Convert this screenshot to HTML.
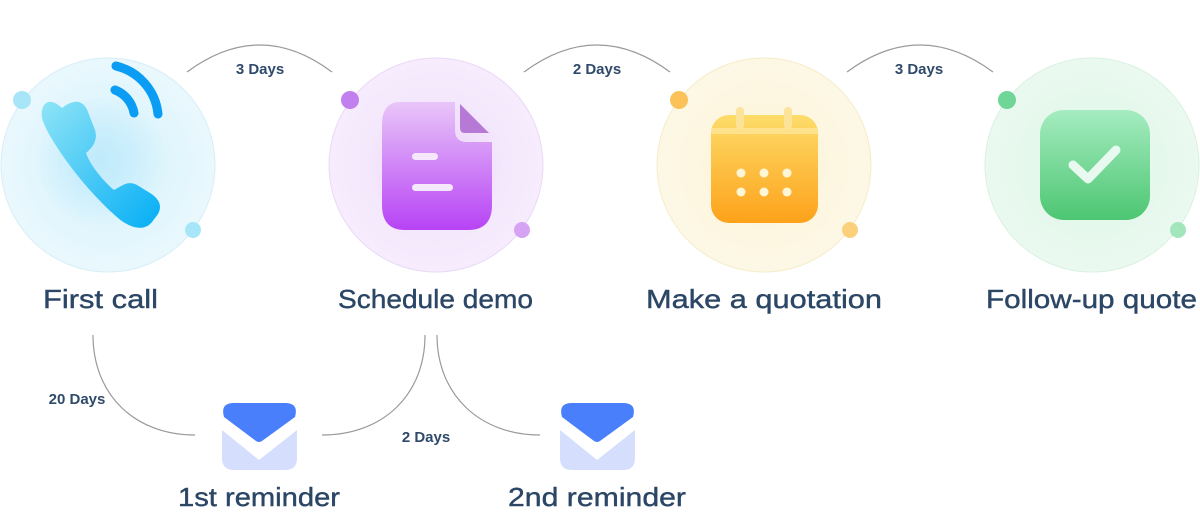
<!DOCTYPE html>
<html><head><style>
html,body{margin:0;padding:0;background:#fff;}
body{width:1200px;height:514px;overflow:hidden;position:relative;font-family:"Liberation Sans",sans-serif;}
</style></head><body>
<svg width="1200" height="514" viewBox="0 0 1200 514" xmlns="http://www.w3.org/2000/svg">
<defs>
<radialGradient id="cb" cx="50%" cy="50%" r="50%"><stop offset="0" stop-color="#d2f1fc"/><stop offset="1" stop-color="#eaf8fd"/></radialGradient>
<radialGradient id="cp" cx="50%" cy="50%" r="50%"><stop offset="0" stop-color="#f1e2fb"/><stop offset="1" stop-color="#f6ecfd"/></radialGradient>
<radialGradient id="cy" cx="50%" cy="50%" r="50%"><stop offset="0" stop-color="#fdf3d6"/><stop offset="1" stop-color="#fdf8e6"/></radialGradient>
<radialGradient id="cg" cx="50%" cy="50%" r="50%"><stop offset="0" stop-color="#dcf6e6"/><stop offset="1" stop-color="#ebf9f0"/></radialGradient>
<linearGradient id="gp" x1="0" y1="0" x2="0" y2="1"><stop offset="0" stop-color="#e8c6f8"/><stop offset="1" stop-color="#b743f5"/></linearGradient>
<linearGradient id="go" x1="0" y1="0" x2="0" y2="1"><stop offset="0" stop-color="#fddc6a"/><stop offset="1" stop-color="#fda21a"/></linearGradient>
<linearGradient id="gg" x1="0" y1="0" x2="0" y2="1"><stop offset="0" stop-color="#a5ecc0"/><stop offset="1" stop-color="#4dc672"/></linearGradient>
<linearGradient id="gb" x1="0" y1="0" x2="1" y2="1"><stop offset="0" stop-color="#8ee4f7"/><stop offset="1" stop-color="#05aef5"/></linearGradient>
<radialGradient id="glow" cx="50%" cy="50%" r="50%"><stop offset="0" stop-color="#bfeafb"/><stop offset="1" stop-color="#bfeafb" stop-opacity="0"/></radialGradient>
<radialGradient id="glowp" cx="50%" cy="50%" r="50%"><stop offset="0" stop-color="#ecd2fa"/><stop offset="1" stop-color="#ecd2fa" stop-opacity="0"/></radialGradient>
</defs>
<g fill="none" stroke="#9a9a9a" stroke-width="1.2">
<path d="M187 72 Q260 18 332 72"/>
<path d="M524 72 Q597 18 670 72"/>
<path d="M847 72 Q920 18 993 72"/>
<path d="M93 335 C93 395 135 435 195 435"/>
<path d="M425 335 C425 395 383 435 322 435"/>
<path d="M437 335 C437 395 480 435 540 435"/>
</g>
<g font-family="Liberation Sans, sans-serif" font-size="15" font-weight="600" fill="#2f4a6b">
<text x="260" y="74" text-anchor="middle">3 Days</text>
<text x="597" y="74" text-anchor="middle">2 Days</text>
<text x="919" y="74" text-anchor="middle">3 Days</text>
<text x="77" y="404" text-anchor="middle">20 Days</text>
<text x="426" y="442" text-anchor="middle">2 Days</text>
</g>
<circle cx="108" cy="165" r="107" fill="url(#cb)" stroke="#d6eef8"/>
<circle cx="436" cy="165" r="107" fill="url(#cp)" stroke="#eadaf6"/>
<circle cx="764" cy="165" r="107" fill="url(#cy)" stroke="#f6ecc8"/>
<circle cx="1092" cy="165" r="107" fill="url(#cg)" stroke="#d8f1e1"/>
<circle cx="100" cy="160" r="65" fill="url(#glow)"/>
<circle cx="436" cy="165" r="70" fill="url(#glowp)"/>
<circle cx="22" cy="100" r="9" fill="#a6e6f8"/><circle cx="193" cy="230" r="8" fill="#a6e6f8"/>
<circle cx="350" cy="100" r="9" fill="#c27fee"/><circle cx="522" cy="230" r="8" fill="#d5a2f4"/>
<circle cx="679" cy="100" r="9" fill="#fbc25a"/><circle cx="850" cy="230" r="8" fill="#fbd07a"/>
<circle cx="1007" cy="100" r="9" fill="#6fd697"/><circle cx="1178" cy="230" r="8" fill="#a3e6bc"/>
<!-- phone -->
<path d="M62 108 C48 95 40 105 42 118 C46 135 80 185 118 218 C130 228 144 232 152 222 L158 214 C163 205 158 198 150 193 L137 185 C128 180 122 186 114 190 C104 182 90 165 86 153 C93 147 98 140 95 130 L88 112 C83 98 72 100 62 108 Z" fill="url(#gb)"/>
<path d="M115 90 A30 30 0 0 1 134 113" stroke="#0b9cf3" stroke-width="9" fill="none" stroke-linecap="round"/>
<path d="M116 66 A55 55 0 0 1 158 114" stroke="#0b9cf3" stroke-width="9" fill="none" stroke-linecap="round"/>
<!-- doc -->
<path d="M400 102 H455 V130 Q455 142 467 142 H492 V205 Q492 230 468 230 H405 Q382 230 382 205 V125 Q382 102 400 102 Z" fill="url(#gp)"/>
<path d="M460 104 L489 133 H465 Q460 133 460 128 Z" fill="#b67ad6"/>
<rect x="412" y="153" width="26" height="7" rx="3.5" fill="#f6e8fc"/>
<rect x="412" y="184" width="41" height="7" rx="3.5" fill="#f6e8fc"/>
<!-- calendar -->
<rect x="711" y="115" width="107" height="108" rx="18" fill="url(#go)"/>
<rect x="711" y="128" width="107" height="6" fill="#fde7a0" opacity=".7"/>
<rect x="736" y="107" width="8" height="22" rx="4" fill="#fde39a"/>
<rect x="784" y="107" width="8" height="22" rx="4" fill="#fde39a"/>
<g fill="#fff6d8"><circle cx="741" cy="173" r="4.5"/><circle cx="764" cy="173" r="4.5"/><circle cx="787" cy="173" r="4.5"/><circle cx="741" cy="192" r="4.5"/><circle cx="764" cy="192" r="4.5"/><circle cx="787" cy="192" r="4.5"/></g>
<!-- check -->
<rect x="1040" y="110" width="110" height="110" rx="24" fill="url(#gg)"/>
<path d="M1073 165 L1088 179 L1116 150" stroke="#e8faef" stroke-width="9" fill="none" stroke-linecap="round" stroke-linejoin="round"/>
<!-- mails -->
<g>
<path d="M222 430 L259 460 L297 430 V458 Q297 470 285 470 H234 Q222 470 222 458 Z" fill="#d6defd"/>
<path d="M234 403 H285 Q299 403 295 417 L262 441 Q259 443 256 441 L224 417 Q220 403 234 403 Z" fill="#4a7ffb"/>
</g>
<g transform="translate(338,0)">
<path d="M222 430 L259 460 L297 430 V458 Q297 470 285 470 H234 Q222 470 222 458 Z" fill="#d6defd"/>
<path d="M234 403 H285 Q299 403 295 417 L262 441 Q259 443 256 441 L224 417 Q220 403 234 403 Z" fill="#4a7ffb"/>
</g>
<g font-family="Liberation Sans, sans-serif" font-size="26" fill="#2c4666" stroke="#2c4666" stroke-width="0.4">
<text x="43" y="308" textLength="115" lengthAdjust="spacingAndGlyphs">First call</text>
<text x="338" y="308" textLength="195" lengthAdjust="spacingAndGlyphs">Schedule demo</text>
<text x="646" y="308" textLength="236" lengthAdjust="spacingAndGlyphs">Make a quotation</text>
<text x="986" y="308" textLength="211" lengthAdjust="spacingAndGlyphs">Follow-up quote</text>
<text x="178" y="506" textLength="162" lengthAdjust="spacingAndGlyphs">1st reminder</text>
<text x="508" y="506" textLength="178" lengthAdjust="spacingAndGlyphs">2nd reminder</text>
</g>
</svg>
</body></html>
